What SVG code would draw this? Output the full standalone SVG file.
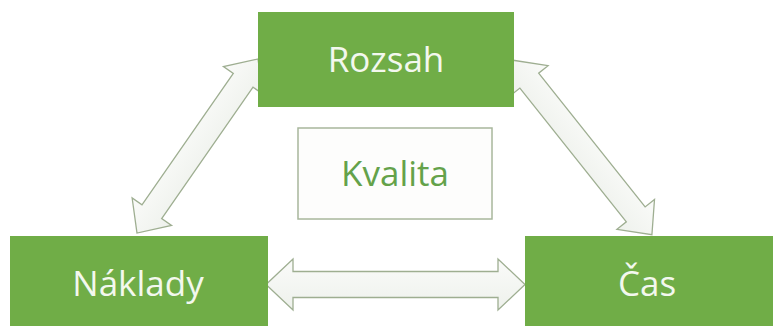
<svg xmlns="http://www.w3.org/2000/svg" width="773" height="326" viewBox="0 0 773 326">
  <style>
    .box { fill: #70ad47; }
    .lbl { font-family: "Open Sans", "Noto Sans", sans-serif; font-size: 35px; fill: #f3f8ee; text-anchor: middle; }
    .arrow { fill: url(#arrowFill); stroke: #9eae91; stroke-width: 1.3; stroke-linejoin: miter; }
    .q { fill: #fdfdfc; stroke: #a8b79c; stroke-width: 1.5; }
    .qlbl { font-family: "Open Sans", "Noto Sans", sans-serif; font-size: 35px; fill: #64a24a; text-anchor: middle; }
  </style>
  <defs>
    <linearGradient id="arrowFill" x1="0" y1="0" x2="0" y2="1">
      <stop offset="0" stop-color="#fafbf9"/>
      <stop offset="1" stop-color="#eef1ec"/>
    </linearGradient>
  </defs>
  <rect width="773" height="326" fill="#ffffff"/>

  <g id="connectors">
    <!-- Náklady <-> Čas -->
    <polygon class="arrow" transform="translate(395.5 284.5)"
      points="-129.5,0 -102.5,-25.5 -102.5,-13 102.5,-13 102.5,-25.5 129.5,0 102.5,25.5 102.5,13 -102.5,13 -102.5,25.5"/>
    <!-- Náklady <-> Rozsah -->
    <polygon class="arrow" transform="translate(197.5 146) rotate(-55.2)"
      points="-106,0 -80,-24 -80,-12 80,-12 80,-24 106,0 80,24 80,12 -80,12 -80,24"/>
    <!-- Rozsah <-> Čas -->
    <polygon class="arrow" transform="translate(582.5 147.5) rotate(51.5)"
      points="-111.5,0 -85.5,-24 -85.5,-12 85.5,-12 85.5,-24 111.5,0 85.5,24 85.5,12 -85.5,12 -85.5,24"/>
  </g>

  <g id="rozsah">
    <rect class="box" x="258" y="12" width="256" height="95"/>
    <text class="lbl" x="386" y="72">Rozsah</text>
  </g>

  <g id="kvalita">
    <rect class="q" x="298" y="128" width="194" height="91"/>
    <text class="qlbl" x="395" y="186">Kvalita</text>
  </g>

  <g id="naklady">
    <rect class="box" x="10" y="236" width="258" height="95"/>
    <text class="lbl" x="138" y="296">Náklady</text>
  </g>

  <g id="cas">
    <rect class="box" x="525" y="236" width="258" height="95"/>
    <text class="lbl" x="647" y="296">Čas</text>
  </g>
</svg>
